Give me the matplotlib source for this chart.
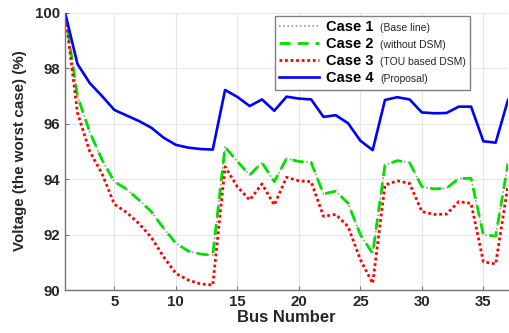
import matplotlib
matplotlib.use('Agg')
import matplotlib.pyplot as plt
import numpy as np
from matplotlib.offsetbox import TextArea

plt.rcParams['font.family'] = ['Liberation Sans', 'DejaVu Sans']

bus = np.arange(1, 38)

# Case 1 (base line) lies under Case 2 in the picture
case1 = [100, 97.0, 95.7, 94.7, 93.91, 93.64, 93.25, 92.83, 92.23, 91.69, 91.41, 91.3, 91.26,
         95.16, 94.64, 94.15, 94.6, 93.91, 94.75, 94.64, 94.6, 93.47, 93.57, 93.13, 92.0, 91.32,
         94.51, 94.67, 94.6, 93.73, 93.65, 93.67, 94.03, 94.03, 91.99, 91.95, 94.57]
case2 = [100, 97.0, 95.7, 94.7, 93.91, 93.64, 93.25, 92.83, 92.23, 91.69, 91.41, 91.3, 91.26,
         95.16, 94.64, 94.15, 94.6, 93.91, 94.75, 94.64, 94.6, 93.47, 93.57, 93.13, 92.0, 91.32,
         94.51, 94.67, 94.6, 93.73, 93.65, 93.67, 94.03, 94.03, 91.99, 91.95, 94.57]
case3 = [100, 96.4, 95.0, 94.2, 93.1, 92.8, 92.4, 91.9, 91.2, 90.6, 90.36, 90.22, 90.18,
         94.45, 93.73, 93.25, 93.83, 93.07, 94.07, 93.94, 93.91, 92.66, 92.73, 92.29, 91.1, 90.24,
         93.79, 93.94, 93.85, 92.83, 92.73, 92.74, 93.19, 93.13, 91.02, 90.94, 93.79]
case4 = [100, 98.16, 97.47, 97.0, 96.5, 96.3, 96.1, 95.86, 95.5, 95.24, 95.14, 95.09, 95.07,
         97.22, 96.97, 96.64, 96.88, 96.47, 96.98, 96.91, 96.88, 96.25, 96.31, 96.02, 95.39, 95.05,
         96.86, 96.96, 96.88, 96.41, 96.38, 96.39, 96.62, 96.62, 95.37, 95.32, 96.86]

labels = ['Case 1', 'Case 2', 'Case 3', 'Case 4']
notes = ['(Base line)', '(without DSM)', '(TOU based DSM)', '(Proposal)']

fig = plt.figure(figsize=(5.09, 3.33), dpi=100)
ax = fig.add_axes([0.128, 0.129, 0.870, 0.832])

l1, = ax.plot(bus, case1, color='0.6', linestyle=(0, (1, 1.5)), linewidth=1.2)
l2, = ax.plot(bus, case2, color='#00e000', linestyle=(0, (4, 2.5)), linewidth=2.0)
l3, = ax.plot(bus, case3, color='#ff0000', linestyle=(0, (1, 1)), linewidth=2.0)
l4, = ax.plot(bus, case4, color='#0000ff', linestyle='-', linewidth=1.9)

ax.set_xlim(1, 37)
ax.set_ylim(90, 100)
ax.set_xticks([5, 10, 15, 20, 25, 30, 35])
ax.set_yticks([90, 92, 94, 96, 98, 100])
ax.grid(True, color='0.9', linewidth=0.8)
ax.set_axisbelow(True)
for s in ['top', 'right']:
    ax.spines[s].set_visible(False)
for s in ['left', 'bottom']:
    ax.spines[s].set_color('0.45')
    ax.spines[s].set_linewidth(1.0)
ax.tick_params(direction='in', length=3, color='0.45', labelsize=10.8, labelcolor='#262626')
for t in ax.get_xticklabels() + ax.get_yticklabels():
    t.set_fontweight('bold')

ax.set_xlabel('Bus Number', fontsize=12, fontweight='bold', color='#262626', labelpad=1)
ax.set_ylabel('Voltage (the worst case) (%)', fontsize=10.9, fontweight='bold', color='#262626')
ax.yaxis.set_label_coords(-0.086, 0.505)

leg = ax.legend([l1, l2, l3, l4], labels, loc='upper left',
                bbox_to_anchor=(275 / 509, 1 - 16 / 333), bbox_transform=fig.transFigure,
                prop={'weight': 'bold', 'size': 10.5}, fancybox=False, framealpha=1,
                edgecolor='0.5', borderpad=0.3, labelspacing=0.2, handlelength=2.7,
                handletextpad=0.5, borderaxespad=0)
leg.get_frame().set_linewidth(1.0)
# add the small notes after each bold label
for col in leg._legend_handle_box.get_children():
    for item, note in zip(col.get_children(), notes):
        ta = TextArea(note, textprops=dict(fontsize=7.5, color='#262626'))
        ta.set_figure(fig)
        item.get_children().append(ta)
        item.sep = 5

plt.savefig('out.png', dpi=100)
